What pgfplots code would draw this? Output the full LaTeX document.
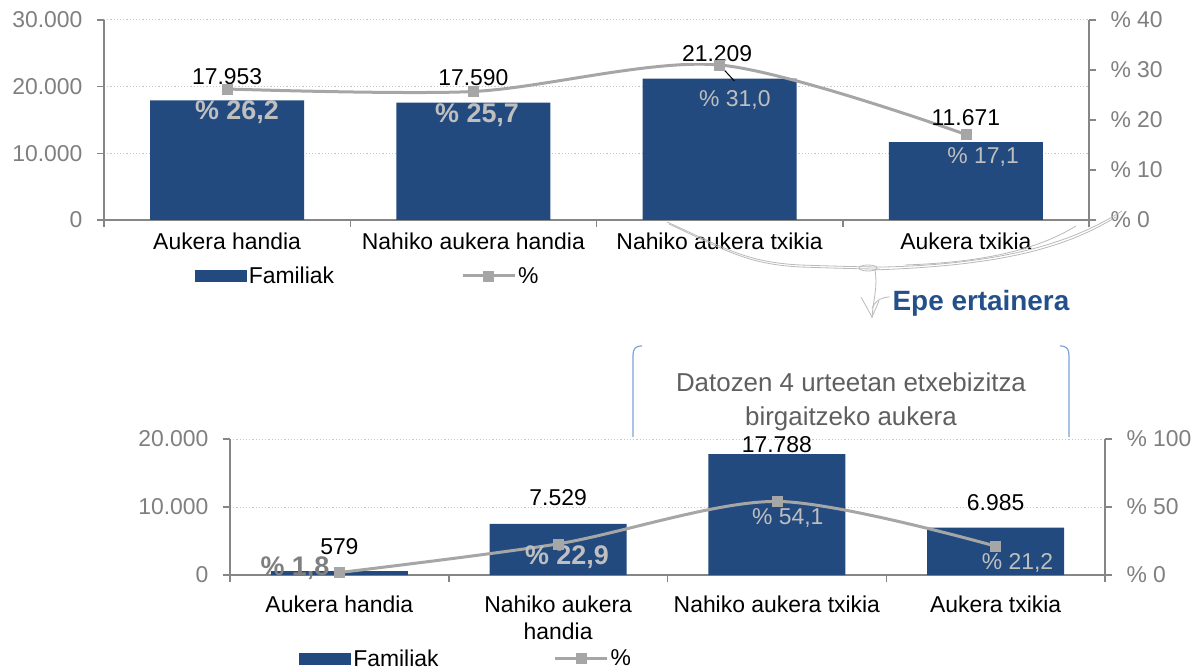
\documentclass[border=0pt]{standalone}
\usepackage{fontspec}
\setmainfont{Liberation Sans}
\usepackage{pgfplots}
\pgfplotsset{compat=1.18}
\definecolor{barblue}{HTML}{224A7E}
\definecolor{lgray}{HTML}{A6A6A6}
\definecolor{axisgray}{HTML}{868686}
\definecolor{tickgray}{HTML}{7F7F7F}
\definecolor{gridgray}{HTML}{C8C8C8}
\definecolor{inbar}{HTML}{BFBFBF}
\definecolor{boxtext}{HTML}{5F5F5F}
\definecolor{bracket}{HTML}{7DA3D6}
\definecolor{epeblue}{HTML}{24508A}
\newcommand{\lf}{\fontsize{23}{27}\selectfont}
\newcommand{\bl}{\fontsize{27}{30}\selectfont\bfseries}
\pgfplotsset{
  common/.style={scale only axis, enlargelimits=false, xmin=-0.5, xmax=3.5, clip=false,
    axis line style={draw=axisgray, line width=2bp},
    tick style={draw=axisgray, line width=1.5bp},
    major tick length=7bp, minor tick length=7bp, tick align=outside,
    scaled y ticks=false,
    /pgf/number format/assume math mode=true,
    yticklabel style={font=\lf, text=tickgray},
  },
  barax/.style={common, axis y line*=left, axis x line*=bottom,
    yticklabel style={xshift=-11bp},
    ymajorgrids, grid style={dash pattern=on 1.2bp off 2bp, gridgray, line width=1bp},
    xtick={0,1,2,3}, major x tick style={draw=none},
    minor xtick={-0.5,0.5,1.5,2.5,3.5},
    xticklabel style={font=\lf, text=black, align=center},
    legend style={draw=none, fill=none, font=\lf, legend columns=-1, inner sep=0pt},
  },
  lineax/.style={common, axis y line*=right, axis x line=none, yticklabel style={xshift=11bp}},
  barlegend/.style={legend image code/.code={\fill[barblue] (0bp,-6bp) rectangle (52bp,6bp);}},
  linelegend/.style={legend image code/.code={\draw[mark repeat=2,mark phase=2] plot coordinates {(0bp,0bp)(26bp,0bp)(52bp,0bp)};}},
  pline/.style={smooth, tension=0.5, lgray, line width=3bp, mark=square*, mark size=5bp, mark options={fill=lgray, draw=lgray, line width=0.5bp}},
}
\begin{document}
\begin{tikzpicture}
\useasboundingbox (0,0) rectangle (1202bp,671bp);

% ---------------- top chart ----------------
\begin{axis}[barax, at={(104bp,451bp)}, anchor=south west, width=985bp, height=200bp,
  ymin=0, ymax=30000, ytick={0,10000,20000,30000}, yticklabels={0,10.000,20.000,30.000},
  xticklabels={Aukera handia, Nahiko aukera handia, Nahiko aukera txikia, Aukera txikia},
  xticklabel style={yshift=-2bp},
  legend style={at={(axis description cs:0.092,-0.28)}, anchor=west,
    /tikz/every even column/.append style={column sep=125bp}},
]
\addplot[ybar, bar width=154bp, fill=barblue, draw=none, barlegend] coordinates {(0,17953) (1,17590) (2,21209) (3,11671)};
\addlegendentry{Familiak}
\addlegendimage{pline, linelegend}
\addlegendentry{\%}
\end{axis}
\begin{axis}[lineax, at={(104bp,451bp)}, anchor=south west, width=985bp, height=200bp,
  ymin=0, ymax=40, ytick={0,10,20,30,40}, yticklabels={\% 0,\% 10,\% 20,\% 30,\% 40}]
\addplot[pline] coordinates {(0,26.2) (1,25.7) (2,31.0) (3,17.1)};
\draw[black, line width=1bp] (axis cs:2,31) -- (axis cs:2.06,27.8);
\node[font=\lf] at (axis cs:0,28.6) {17.953};
\node[font=\lf] at (axis cs:1,28.4) {17.590};
\node[font=\lf, fill=white, inner sep=1bp] at (axis cs:1.99,33.2) {21.209};
\node[font=\lf] at (axis cs:3,20.4) {11.671};
\node[font=\bl, text=inbar] at (axis cs:0.04,21.6) {\% 26,2};
\node[font=\bl, text=inbar] at (axis cs:1.015,21) {\% 25,7};
\node[font=\lf, text=inbar] at (axis cs:2.062,24) {\% 31,0};
\node[font=\lf, text=inbar] at (axis cs:3.07,12.6) {\% 17,1};
\end{axis}

% ---------------- bottom chart ----------------
\begin{axis}[barax, at={(230bp,96bp)}, anchor=south west, width=875bp, height=136bp,
  ymin=0, ymax=20000, ytick={0,10000,20000}, yticklabels={0,10.000,20.000},
  xticklabels={Aukera handia, {Nahiko aukera\\handia}, Nahiko aukera txikia, Aukera txikia},
  xticklabel style={yshift=-10bp},
  legend style={at={(axis description cs:0.079,-0.615)}, anchor=west,
    /tikz/every even column/.append style={column sep=113bp}},
]
\addplot[ybar, bar width=137bp, fill=barblue, draw=none, barlegend] coordinates {(0,579) (1,7529) (2,17788) (3,6985)};
\addlegendentry{Familiak}
\addlegendimage{pline, linelegend}
\addlegendentry{\%}
\end{axis}
\begin{axis}[lineax, at={(230bp,96bp)}, anchor=south west, width=875bp, height=136bp,
  ymin=0, ymax=100, ytick={0,50,100}, yticklabels={\% 0,\% 50,\% 100}]
\addplot[pline] coordinates {(0,1.8) (1,22.9) (2,54.1) (3,21.2)};
\node[font=\lf] at (axis cs:0,20.6) {579};
\node[font=\lf] at (axis cs:1,56.6) {7.529};
\node[font=\lf] at (axis cs:2,95.6) {17.788};
\node[font=\lf] at (axis cs:3,52.9) {6.985};
\node[font=\bl, text=tickgray] at (axis cs:-0.203,5.1) {\% 1,8};
\node[font=\bl, text=inbar] at (axis cs:1.04,13.2) {\% 22,9};
\node[font=\lf, text=inbar] at (axis cs:2.05,41.9) {\% 54,1};
\node[font=\lf, text=inbar] at (axis cs:3.1,8.5) {\% 21,2};
\end{axis}

% ---------------- decorations (pixel coordinates) ----------------
\begin{scope}[x=1bp, y=-1bp, yshift=671bp]
\begin{scope}[draw=gray!55, line width=0.8bp]
\draw (667,222) .. controls (725,248) and (745,262) .. (800,265) .. controls (830,266) and (860,267) .. (885,267);
\draw (669,224) .. controls (727,251) and (747,264) .. (800,267) .. controls (830,268) and (860,269) .. (880,269);
\draw (1122,211) .. controls (1070,244) and (1000,264) .. (885,267);
\draw (1116,217) .. controls (1062,250) and (995,266) .. (872,270);
\draw (1076,226) .. controls (1040,248) and (990,262) .. (905,265);
\draw (868,268) ellipse (9 and 3);
\draw (875,270) .. controls (878,288) and (873,300) .. (872,318);
\draw (861,297) -- (872,317) -- (879,301);
\draw (872,308) .. controls (876,300) and (882,297) .. (890,297);
\end{scope}
\node[text=epeblue, font=\fontsize{28}{32}\selectfont\bfseries] at (981,303) {Epe ertainera};
\draw[bracket, line width=1.2bp] (642,346) .. controls (635,346) and (633,349) .. (633,356) -- (633,437);
\draw[bracket, line width=1.2bp] (1060,346) .. controls (1067,346) and (1069,349) .. (1069,356) -- (1069,437);
\node[text=boxtext, font=\fontsize{26}{34}\selectfont, align=center] at (851,402) {Datozen 4 urteetan etxebizitza\\birgaitzeko aukera};
\end{scope}
\end{tikzpicture}
\end{document}
